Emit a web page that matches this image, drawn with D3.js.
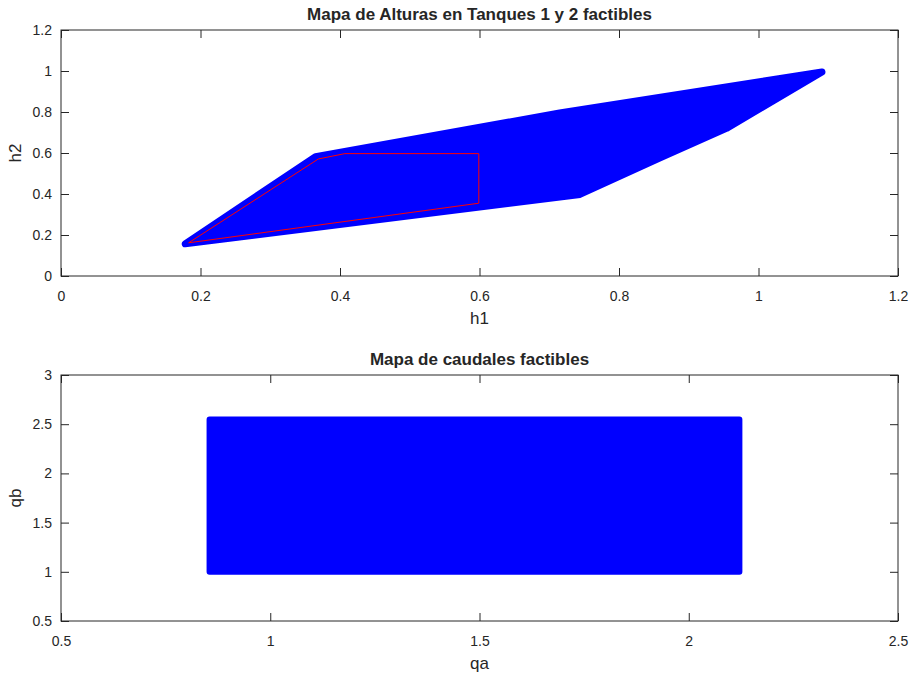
<!DOCTYPE html>
<html><head><meta charset="utf-8">
<script src="https://cdn.jsdelivr.net/npm/d3@7"></script>
<style>
body{margin:0;background:#fff;}
svg{display:block;}
text{font-family:"Liberation Sans",Arial,Helvetica,sans-serif;fill:#262626;}
</style></head>
<body>
<script>
// ---- Data ----
// Top subplot: feasible heights region (outline of the scatter cloud)
const regionH1 = [0.178, 0.365, 0.715, 1.091, 0.954, 0.859, 0.744, 0.178];
const regionH2 = [0.157, 0.582, 0.795, 0.995, 0.720, 0.576, 0.398, 0.157];
// Red constraint polygon
const redH1 = [0.183, 0.369, 0.407, 0.599, 0.599, 0.183];
const redH2 = [0.162, 0.571, 0.597, 0.597, 0.355, 0.162];
const topXTicks = [0, 0.2, 0.4, 0.6, 0.8, 1, 1.2];
const topYTicks = [0, 0.2, 0.4, 0.6, 0.8, 1, 1.2];
// Bottom subplot: feasible flows region
const flowQa = [0.855, 2.121, 2.121, 0.855, 0.855];
const flowQb = [1.0, 1.0, 2.548, 2.548, 1.0];
const botXTicks = [0.5, 1, 1.5, 2, 2.5];
const botYTicks = [0.5, 1, 1.5, 2, 2.5, 3];

const W = 913, H = 675;
const svg = d3.select("body").append("svg").attr("width", W).attr("height", H);
const axisColor = "#262626";

function panel(o){
  const x = d3.scaleLinear().domain(o.xd).range([o.left, o.right]);
  const y = d3.scaleLinear().domain(o.yd).range([o.bottom, o.top]);
  const g = svg.append("g");
  const tl = 8;
  o.draw(g, x, y);
  g.append("rect").attr("x", o.left).attr("y", o.top)
    .attr("width", o.right - o.left).attr("height", o.bottom - o.top)
    .attr("fill", "none").attr("stroke", axisColor).attr("stroke-width", 1);
  const fmt = d => String(+d.toFixed(2));
  const xb = g.append("g").attr("transform", `translate(0,${o.bottom})`)
    .call(d3.axisBottom(x).tickValues(o.xt).tickSize(-tl).tickPadding(15).tickFormat(fmt));
  const xt = g.append("g").attr("transform", `translate(0,${o.top})`)
    .call(d3.axisTop(x).tickValues(o.xt).tickSize(-tl).tickFormat(""));
  const yl = g.append("g").attr("transform", `translate(${o.left},0)`)
    .call(d3.axisLeft(y).tickValues(o.yt).tickSize(-tl).tickPadding(9).tickFormat(fmt));
  const yr = g.append("g").attr("transform", `translate(${o.right},0)`)
    .call(d3.axisRight(y).tickValues(o.yt).tickSize(-tl).tickFormat(""));
  [xb, xt, yl, yr].forEach(a => {
    a.select(".domain").remove();
    a.selectAll("line").attr("stroke", axisColor);
    a.selectAll("text").attr("font-size", 14).attr("fill", axisColor)
      .style("font-family", '"Liberation Sans",Arial,sans-serif');
  });
  g.append("text").attr("x", (o.left + o.right) / 2).attr("y", o.top - 10)
    .attr("text-anchor", "middle").attr("font-size", 17).attr("font-weight", "bold")
    .attr("fill", "#000").text(o.title);
  g.append("text").attr("x", (o.left + o.right) / 2).attr("y", o.bottom + 48)
    .attr("text-anchor", "middle").attr("font-size", 17).text(o.xlabel);
  g.append("text").attr("transform", `translate(${o.left - 40},${(o.top + o.bottom) / 2}) rotate(-90)`)
    .attr("text-anchor", "middle").attr("font-size", 17).text(o.ylabel);
}

panel({
  left: 61, right: 898, top: 30, bottom: 276,
  xd: [0, 1.2], yd: [0, 1.2], xt: topXTicks, yt: topYTicks,
  title: "Mapa de Alturas en Tanques 1 y 2 factibles", xlabel: "h1", ylabel: "h2",
  draw: (g, x, y) => {
    const pts = regionH1.map((v, i) => [x(v), y(regionH2[i])]);
    g.append("path").attr("d", d3.line()(pts) + "Z")
      .attr("fill", "#0000ff").attr("stroke", "#0000ff")
      .attr("stroke-width", 7).attr("stroke-linejoin", "round");
    const rp = redH1.map((v, i) => [x(v), y(redH2[i])]);
    g.append("path").attr("d", d3.line()(rp))
      .attr("fill", "none").attr("stroke", "#ff0000").attr("stroke-width", 1);
  }
});

panel({
  left: 61, right: 898, top: 375, bottom: 621,
  xd: [0.5, 2.5], yd: [0.5, 3], xt: botXTicks, yt: botYTicks,
  title: "Mapa de caudales factibles", xlabel: "qa", ylabel: "qb",
  draw: (g, x, y) => {
    const pts = flowQa.map((v, i) => [x(v), y(flowQb[i])]);
    g.append("path").attr("d", d3.line()(pts) + "Z")
      .attr("fill", "#0000ff").attr("stroke", "#0000ff")
      .attr("stroke-width", 6).attr("stroke-linejoin", "round");
  }
});
</script>
</body></html>
